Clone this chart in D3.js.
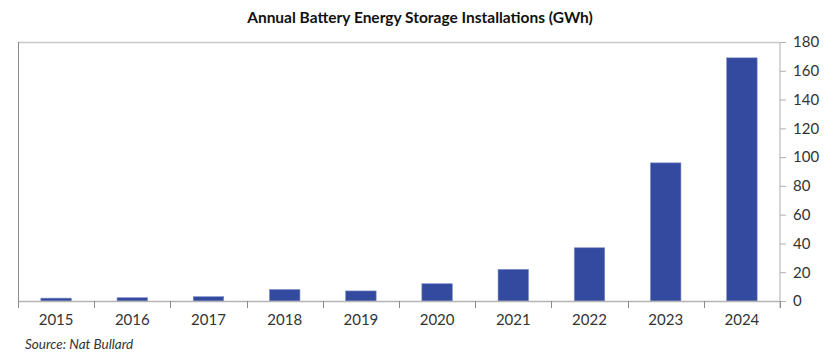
<!doctype html>
<html>
  <head>
    <title>Annual Battery Energy Storage Installations</title>
    <script src="https://cdnjs.cloudflare.com/ajax/libs/d3/7.8.5/d3.min.js"></script>
    <style>
      body { margin: 0; background: #fff; }
      svg text { font-family: Lato, "Open Sans", sans-serif; }
    </style>
  </head>
  <body>
    <svg id="chart" width="840" height="363"></svg>
    <script>
      var years = ["2015", "2016", "2017", "2018", "2019", "2020", "2021", "2022", "2023", "2024"];
      var gwh = [2, 2.3, 3, 8, 7, 12, 22, 37, 96, 169];
      var yTicks = [0, 20, 40, 60, 80, 100, 120, 140, 160, 180];

      var svg = d3.select("#chart");
      var plotLeft = 18, plotRight = 780, plotTop = 42, plotBottom = 301;

      var x = d3.scaleBand()
        .domain(years)
        .range([plotLeft, plotRight])
        .paddingInner(0.6)
        .paddingOuter(0.3);

      var y = d3.scaleLinear()
        .domain([0, 180])
        .range([plotBottom, plotTop]);

      // title
      svg.append("text")
        .attr("x", 420)
        .attr("y", 23)
        .attr("text-anchor", "middle")
        .attr("font-size", "15.5px")
        .attr("font-weight", "700")
        .attr("fill", "#111")
        .text("Annual Battery Energy Storage Installations (GWh)");

      // plot frame: top line and left line
      svg.append("line")
        .attr("x1", plotLeft).attr("x2", plotRight)
        .attr("y1", plotTop + 0.5).attr("y2", plotTop + 0.5)
        .attr("stroke", "#c8c8c8").attr("stroke-width", 1.5);
      svg.append("line")
        .attr("x1", plotLeft + 0.5).attr("x2", plotLeft + 0.5)
        .attr("y1", plotTop).attr("y2", plotBottom)
        .attr("stroke", "#8a8a8a").attr("stroke-width", 1);

      // bars
      svg.selectAll("rect.bar")
        .data(years)
        .enter()
        .append("rect")
        .attr("class", "bar")
        .attr("x", d => x(d))
        .attr("width", x.bandwidth())
        .attr("y", (d, i) => y(gwh[i]))
        .attr("height", (d, i) => y(0) - y(gwh[i]))
        .attr("fill", "#344a9e")
        .attr("stroke", "#7f8fcc")
        .attr("stroke-width", 0.6);

      // right y axis
      var yAxis = d3.axisRight(y)
        .tickValues(yTicks)
        .tickSize(6)
        .tickPadding(7);
      var gy = svg.append("g")
        .attr("transform", "translate(" + plotRight + ",0)")
        .call(yAxis);
      gy.select(".domain").attr("stroke", "#c8c8c8").attr("stroke-width", 1.5)
        .attr("d", "M0," + plotTop + "V" + (plotBottom + 7));
      gy.selectAll(".tick line").attr("stroke", "#b0b0b0");
      gy.selectAll(".tick text")
        .attr("font-size", "15px")
        .attr("fill", "#333")
        .attr("font-family", "Lato, sans-serif");

      // x axis: baseline with boundary ticks
      svg.append("line")
        .attr("x1", plotLeft).attr("x2", plotRight)
        .attr("y1", plotBottom + 0.5).attr("y2", plotBottom + 0.5)
        .attr("stroke", "#b4b4b4").attr("stroke-width", 1.5);

      var bounds = years.map(d => x(d) - x.step() * x.paddingInner() / 2);
      bounds.push(plotRight);
      svg.selectAll("line.xtick")
        .data(bounds)
        .enter()
        .append("line")
        .attr("class", "xtick")
        .attr("x1", d => Math.round(d) + 0.5).attr("x2", d => Math.round(d) + 0.5)
        .attr("y1", plotBottom).attr("y2", plotBottom + 7)
        .attr("stroke", "#8a8a8a");

      svg.selectAll("text.xlabel")
        .data(years)
        .enter()
        .append("text")
        .attr("class", "xlabel")
        .attr("x", d => x(d) + x.bandwidth() / 2)
        .attr("y", 325)
        .attr("text-anchor", "middle")
        .attr("font-size", "15px")
        .attr("fill", "#333")
        .text(d => d);

      // source
      svg.append("text")
        .attr("x", 25)
        .attr("y", 349)
        .attr("font-size", "13.5px")
        .attr("font-style", "italic")
        .attr("fill", "#333")
        .text("Source: Nat Bullard");
    </script>
  </body>
</html>
